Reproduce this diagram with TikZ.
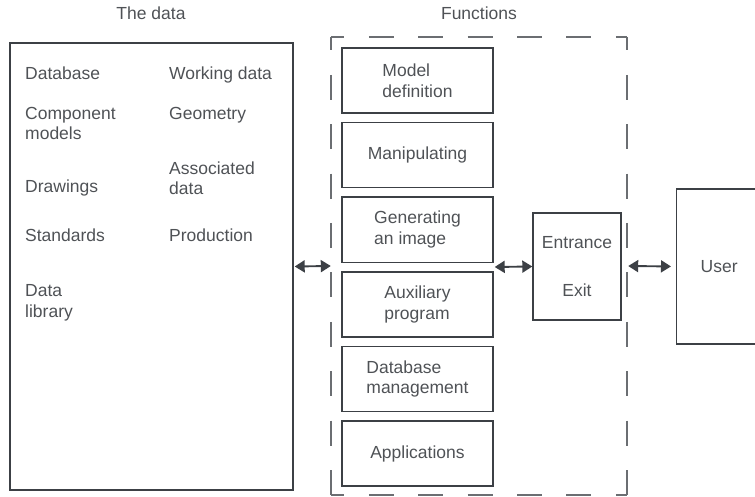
\documentclass[tikz,border=0pt]{standalone}
\usepackage{fontspec}
\setmainfont{Liberation Sans}
\usetikzlibrary{arrows.meta, positioning}
\definecolor{linegray}{HTML}{3C4045}
\definecolor{textgray}{HTML}{4F5256}
\definecolor{dashgray}{HTML}{6B6E72}
\newlength{\blockwidth}
\setlength{\blockwidth}{151pt}
\newlength{\blockheight}
\setlength{\blockheight}{65pt}
\newlength{\blockgap}
\setlength{\blockgap}{8.2pt}
\tikzstyle{block} = [rectangle, draw=linegray, line width=1.4pt, text=textgray, align=left, minimum width=\blockwidth, minimum height=\blockheight, inner sep=0pt]
\tikzstyle{frame} = [rectangle, draw=linegray, line width=1.4pt, text=textgray, inner sep=0pt]
\tikzstyle{item} = [text=textgray, align=left, anchor=base west, inner sep=0pt]
\tikzstyle{title} = [text=textgray, anchor=base, inner sep=0pt]
\tikzstyle{dashside} = [draw=dashgray, line width=2pt, dash pattern=on 25pt off 24.4pt, dash phase=11.4pt]
\tikzstyle{arrow} = [line width=1.9pt, draw=linegray, {Triangle[length=10pt,width=12pt]}-{Triangle[length=10pt,width=12pt]}]

\begin{document}
\begin{tikzpicture}[x=1pt, y=1pt, font=\fontsize{17.5}{20.5}\selectfont]
    \useasboundingbox (0,0) rectangle (755,-497);

    % The data
    \node (data_label) [title] at (151,-20) {The data};
    \node (data) [frame, minimum width=283pt, minimum height=447pt] at (151.5,-266.5) {};

    % (base of a two-line item is its last line)
    \node (database) [item] at (25,-80) {Database};
    \node (component) [item] at (25,-140) {Component\\models};
    \node (drawings) [item] at (25,-193) {Drawings};
    \node (standards) [item] at (25,-242) {Standards};
    \node (library) [item] at (25,-317) {Data\\library};

    \node (working) [item] at (169,-80) {Working data};
    \node (geometry) [item] at (169,-120) {Geometry};
    \node (associated) [item] at (169,-195) {Associated\\data};
    \node (production) [item] at (169,-242) {Production};

    % Functions
    \node (funcs_label) [title] at (479,-20) {Functions};
    \node (funcs) [rectangle, minimum width=296pt, minimum height=458pt, inner sep=0pt] at (479,-266) {};
    \draw [dashside] (funcs.north west) -- (funcs.north east);
    \draw [dashside] (funcs.south west) -- (funcs.south east);
    \draw [dashside] (funcs.north west) -- (funcs.south west);
    \draw [dashside] (funcs.north east) -- (funcs.south east);

    \node (model) [block] at (417.5,-80.5) {Model\\definition};
    \node (manip) [block, below=\blockgap of model] {Manipulating};
    \node (gen) [block, below=\blockgap of manip] {Generating\\an image};
    \node (aux) [block, below=\blockgap of gen] {Auxiliary\\program};
    \node (dbm) [block, below=\blockgap of aux] {Database\\management};
    \node (apps) [block, below=\blockgap of dbm] {Applications};

    % Entrance / exit and user
    \node (entry) [frame, align=center, minimum width=88pt, minimum height=107pt] at (577,-266.5) {Entrance\\[28pt]Exit};
    \node (user) [frame, anchor=west, align=left, text width=100pt, inner xsep=24pt, minimum height=155pt] at (676,-266.5) {User};

    % ==== Arrows
    \path (gen.south east) -- (aux.north east) coordinate[pos=0.5] (gap_mid);
    \draw [arrow, shorten <=1pt] (data.east) -- (funcs.west);
    \draw [arrow, shorten <=1pt] (gap_mid) -- (entry.west);
    \draw [arrow, shorten <=1pt, shorten >=5pt] (funcs.east) -- (user.west);

\end{tikzpicture}
\end{document}
